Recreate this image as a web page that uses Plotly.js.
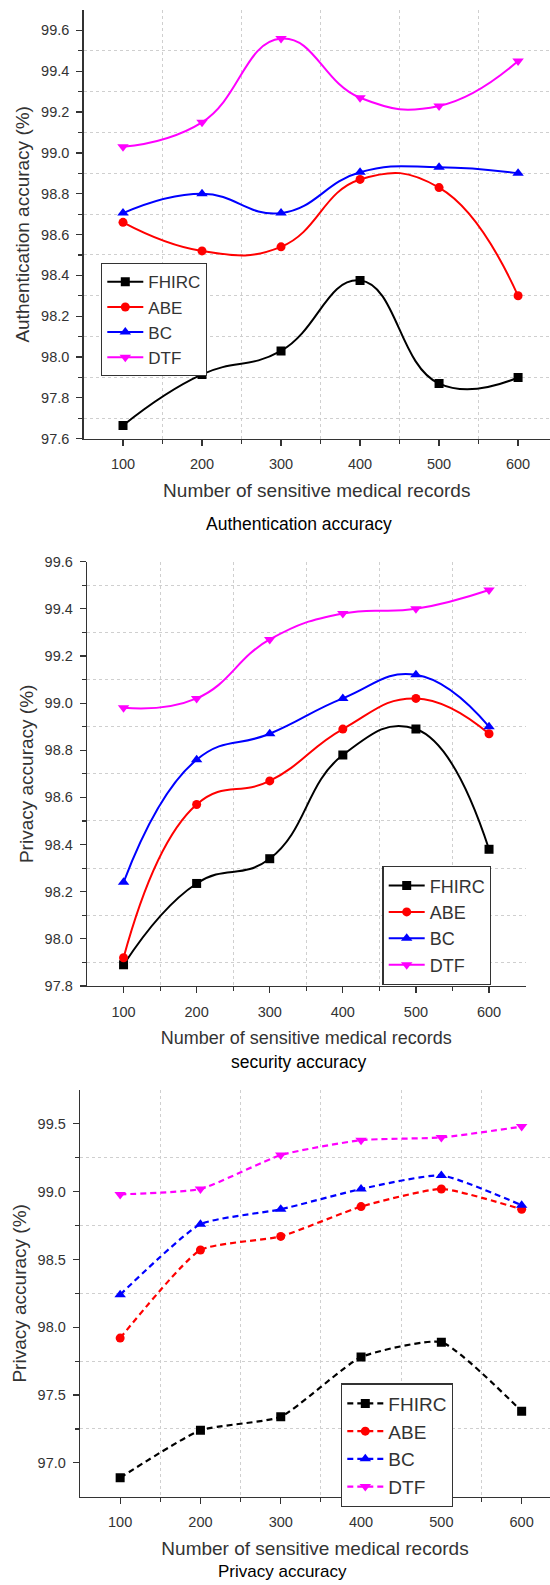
<!DOCTYPE html>
<html>
<head>
<meta charset="utf-8">
<script src="https://cdn.plot.ly/plotly-3.0.1.min.js"></script>
<style>html,body{margin:0;padding:0;background:#fff;}#chart{width:550px;height:1585px;}</style>
</head>
<body>
<div id="chart"></div>
<script>
// ---------- data ----------
var records = [100, 200, 300, 400, 500, 600];
var seriesNames = ["FHIRC", "ABE", "BC", "DTF"];

var authFHIRC = [97.665, 97.915, 98.03, 98.375, 97.87, 97.90];
var authABE   = [98.66, 98.52, 98.54, 98.87, 98.83, 98.30];
var authBC    = [98.705, 98.80, 98.705, 98.905, 98.93, 98.90];
var authDTF   = [99.03, 99.15, 99.56, 99.27, 99.23, 99.45];

var secFHIRC = [97.89, 98.235, 98.34, 98.78, 98.89, 98.38];
var secABE   = [97.92, 98.57, 98.67, 98.89, 99.02, 98.87];
var secBC    = [98.24, 98.76, 98.87, 99.02, 99.12, 98.90];
var secDTF   = [98.98, 99.02, 99.27, 99.38, 99.40, 99.48];

var privFHIRC = [96.89, 97.24, 97.34, 97.78, 97.89, 97.38];
var privABE   = [97.92, 98.57, 98.67, 98.89, 99.02, 98.87];
var privBC    = [98.24, 98.76, 98.87, 99.02, 99.12, 98.90];
var privDTF   = [98.98, 99.02, 99.27, 99.38, 99.40, 99.48];

var xTickVals = [100, 200, 300, 400, 500, 600];
var xMinorVals = [150, 250, 350, 450, 550];
var y1TickVals = [97.6, 97.8, 98.0, 98.2, 98.4, 98.6, 98.8, 99.0, 99.2, 99.4, 99.6];
var y1MinorVals = [97.7, 97.9, 98.1, 98.3, 98.5, 98.7, 98.9, 99.1, 99.3, 99.5];
var y2TickVals = [97.8, 98.0, 98.2, 98.4, 98.6, 98.8, 99.0, 99.2, 99.4, 99.6];
var y2MinorVals = [97.9, 98.1, 98.3, 98.5, 98.7, 98.9, 99.1, 99.3, 99.5];
var y3TickVals = [97.0, 97.5, 98.0, 98.5, 99.0, 99.5];
var y3MinorVals = [97.25, 97.75, 98.25, 98.75, 99.25];

var panelTitles = ["Authentication accuracy", "security accuracy", "Privacy accuracy"];
var xTitle = "Number of sensitive medical records";
var yTitles = ["Authentication accuracy (%)", "Privacy accuracy (%)", "Privacy accuracy (%)"];

// ---------- styles ----------
var W = 550, H = 1585;
var FONT = "Liberation Sans, Arial, Helvetica, sans-serif";
var AX = "#333333";
var GRID = "#cfcfcf";
var colors = ["#000000", "#ff0000", "#0000ff", "#ff00ff"];
var symbols = ["square", "circle", "triangle-up", "triangle-down"];
var msizes = [9, 9, 10, 10];

function dx(px) { return px / W; }
function dy(px) { return 1 - px / H; }

var panelData = [
  [authFHIRC, authABE, authBC, authDTF],
  [secFHIRC, secABE, secBC, secDTF],
  [privFHIRC, privABE, privBC, privDTF]
];

var traces = [];
for (var p = 0; p < 3; p++) {
  for (var s = 0; s < 4; s++) {
    var dashed = (p === 2);
    traces.push({
      x: records,
      y: panelData[p][s],
      name: seriesNames[s],
      type: "scatter",
      mode: "lines+markers",
      xaxis: p === 0 ? "x" : "x" + (p + 1),
      yaxis: p === 0 ? "y" : "y" + (p + 1),
      legend: p === 0 ? "legend" : "legend" + (p + 1),
      line: {
        color: colors[s],
        width: dashed ? 2.2 : 2,
        shape: "spline",
        smoothing: dashed ? 0.5 : 1.3,
        dash: dashed ? "6px,4px" : "solid"
      },
      marker: { symbol: symbols[s], size: msizes[s], color: colors[s] },
      hoverinfo: "x+y+name"
    });
  }
}

function xAxis(domain, range, anchor, titleSize) {
  return {
    domain: domain, range: range, anchor: anchor,
    tickmode: "array", tickvals: xTickVals,
    ticks: "outside", ticklen: 6, tickwidth: 1.2, tickcolor: AX,
    showline: true, linecolor: AX, linewidth: 1.3,
    showgrid: false, zeroline: false,
    tickfont: { family: FONT, size: 14.5, color: AX },
    ticklabelstandoff: 6,
    minor: { tickmode: "array", tickvals: xMinorVals, ticks: "outside", ticklen: 4,
             tickcolor: AX, tickwidth: 1.2, showgrid: true, gridcolor: GRID,
             griddash: "dot", gridwidth: 1 },
    title: { text: xTitle, font: { family: FONT, size: titleSize, color: AX }, standoff: 12 },
    fixedrange: true
  };
}
function yAxis(domain, range, anchor, tv, mv, ttl) {
  return {
    domain: domain, range: range, anchor: anchor,
    tickmode: "array", tickvals: tv, ticktext: tv.map(function (v) { return v.toFixed(1); }),
    ticks: "outside", ticklen: 6, tickwidth: 1.2, tickcolor: AX,
    showline: true, linecolor: AX, linewidth: 1.3,
    showgrid: false, zeroline: false,
    tickfont: { family: FONT, size: 14.5, color: AX },
    ticklabelstandoff: 4,
    minor: { tickmode: "array", tickvals: mv, ticks: "outside", ticklen: 4,
             tickcolor: AX, tickwidth: 1.2, showgrid: true, gridcolor: GRID,
             griddash: "dot", gridwidth: 1 },
    title: { text: ttl, font: { family: FONT, size: 19, color: AX }, standoff: 6 },
    fixedrange: true
  };
}

function legendAt(left, top, size) {
  return {
    x: dx(left), y: dy(top), xanchor: "left", yanchor: "top",
    xref: "paper", yref: "paper",
    bgcolor: "#ffffff", bordercolor: AX, borderwidth: 1.3,
    font: { family: FONT, size: size, color: AX },
    itemwidth: 36, tracegroupgap: 0
  };
}

var layout = {
  width: W, height: H,
  margin: { l: 0, r: 0, t: 0, b: 0 },
  paper_bgcolor: "#ffffff", plot_bgcolor: "#ffffff",
  font: { family: FONT, color: AX },
  showlegend: true,
  xaxis:  xAxis([dx(83.5), 1], [50, 640.4], "y", 19),
  yaxis:  yAxis([dy(438.7), dy(10)], [97.6, 99.7], "x", y1TickVals, y1MinorVals, yTitles[0]),
  xaxis2: xAxis([dx(87), dx(525.5)], [50, 649.9], "y2", 18),
  yaxis2: yAxis([dy(986), dy(561.7)], [97.8, 99.6], "x2", y2TickVals, y2MinorVals, yTitles[1]),
  xaxis3: xAxis([dx(80), 1], [50, 635.3], "y3", 19),
  yaxis3: yAxis([dy(1496.7), dy(1090)], [96.75, 99.75], "x3", y3TickVals, y3MinorVals, yTitles[2]),
  legend:  legendAt(101, 263, 17),
  legend2: legendAt(382.4, 866, 18),
  legend3: legendAt(341, 1383.3, 19),
  annotations: [
    { text: panelTitles[0], xref: "paper", yref: "paper", x: dx(298.7), y: dy(524.3),
      xanchor: "center", yanchor: "middle", showarrow: false,
      font: { family: FONT, size: 17.5, color: "#000000" } },
    { text: panelTitles[1], xref: "paper", yref: "paper", x: dx(298.5), y: dy(1061.7),
      xanchor: "center", yanchor: "middle", showarrow: false,
      font: { family: FONT, size: 17.5, color: "#000000" } },
    { text: panelTitles[2], xref: "paper", yref: "paper", x: dx(282), y: dy(1583),
      xanchor: "center", yanchor: "bottom", showarrow: false,
      font: { family: FONT, size: 17, color: "#000000" } }
  ]
};

Plotly.newPlot("chart", traces, layout, { displayModeBar: false, staticPlot: true });
</script>
</body>
</html>
